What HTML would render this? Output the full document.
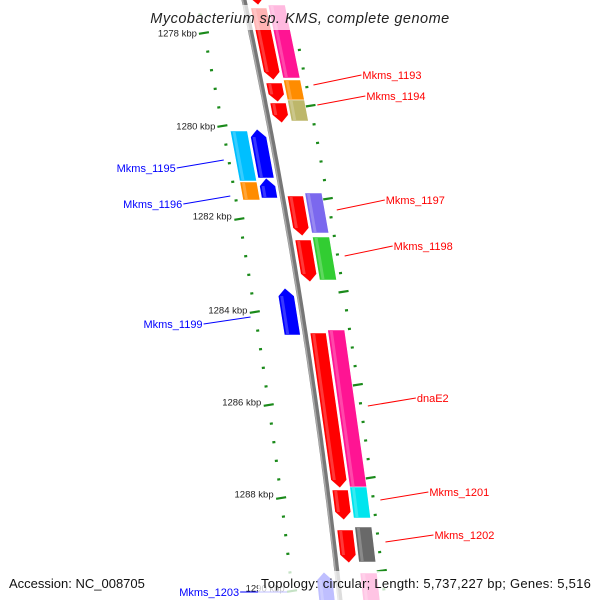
<!DOCTYPE html>
<html><head><meta charset="utf-8"><style>
html,body{margin:0;padding:0;background:#fff}
svg{display:block;font-family:"Liberation Sans",sans-serif}
</style></head><body>
<svg id="map" width="600" height="600" viewBox="0 0 600 600" xmlns="http://www.w3.org/2000/svg">
<g id="ticks"></g>
<g id="genes"></g>
<g id="labels"></g>
<rect x="150" y="5" width="300" height="25" fill="#fff" opacity="0.7"/>
<text x="300" y="23" text-anchor="middle" font-size="14.5" font-style="italic" fill="#222" letter-spacing="0.5">Mycobacterium sp. KMS, complete genome</text>
<rect x="258" y="571" width="336" height="29" fill="#fff" opacity="0.75"/>
<text x="9" y="588" font-size="13" fill="#111">Accession: NC_008705</text>
<text x="261" y="588" font-size="13" fill="#111" letter-spacing="0.25">Topology: circular; Length: 5,737,227 bp; Genes: 5,516</text>
</svg>
<script>
// backbone curve
function X(y){return 244+0.2125*y-8.75e-5*y*y;}
const NS='http://www.w3.org/2000/svg';
function mk(tag,attrs,parent){const e=document.createElementNS(NS,tag);for(const k in attrs)e.setAttribute(k,attrs[k]);parent.appendChild(e);return e;}

// data
const tickKbp=[1278,1280,1282,1284,1286,1288,1290];
const tickY=[33,126,216,310,402,494,588];
const geneStrand=[1,1,1,1,-1,-1,1,1,-1,1,1,1,-1];
const geneStart=[-20,8,83,103,129,178,196,240,288,333,490,530,572];
const geneEnd=[5,80,102,123,178,198,236,282,335,488,520,563,605];
const geneColor=['#ff0000','#ff0000','#ff0000','#ff0000','#0000ff','#0000ff','#ff0000','#ff0000','#0000ff','#ff0000','#ff0000','#ff0000','#0000ff'];
const cdsStrand=[1,1,1,-1,-1,1,1,1,1,1,1,-1];
const cdsStart=[5,80,100,131,182,193,237,330,487,527,573,600];
const cdsEnd=[78,100,121,181,200,233,280,487,518,562,605,605];
const cdsColor=['#ff1493','#ff8c00','#bdb76b','#00bfff','#ff8c00','#7b68ee','#32cd32','#ff1493','#00e5ee','#696969','#ff1493','#ff1493'];
const labelNames=['Mkms_1193','Mkms_1194','Mkms_1195','Mkms_1196','Mkms_1197','Mkms_1198','Mkms_1199','dnaE2','Mkms_1201','Mkms_1202','Mkms_1203'];
const labelSide=[1,1,-1,-1,1,1,-1,1,1,1,-1];
const labelY=[75,96,160,196,200,246,317,398,492,535,592];
const anchorY=[85,105,168,204,210,256,324,406,500,542,592];

const tg=document.getElementById('ticks');
const bb=[];for(let y=-5;y<=605;y+=5)bb.push(X(y).toFixed(1)+','+y);
const bbl=mk('polyline',{points:bb.join(' '),fill:'none',stroke:'#777','stroke-width':5},tg);


mk('polyline',{points:bb.join(' '),fill:'none',stroke:'#aaa','stroke-width':1.5,transform:'translate(-1.5,0)'},tg);

const step=(tickY[1]-tickY[0])/5;
for(let i=-1;i<35;i++){
  const y=tickY[0]+i*step; if(y<0||y>600)continue;
  const major=(i%5===0);
  const xl=X(y)-47;
  const t=mk('line',{x1:xl-(major?5:1.5),y1:y+(major?0.8:0.2),x2:xl+(major?5:1.5),y2:y-(major?0.8:0.2),stroke:'#1a8a1a','stroke-width':2.2},tg);
  
  
  const yr=y+step*2.5-11;
  if(yr<600&&yr>0){const xr=X(yr)+45;const maj2=((i+3)%5===0);
  const t2=mk('line',{x1:xr-(maj2?5:1.5),y1:yr+(maj2?0.8:0.2),x2:xr+(maj2?5:1.5),y2:yr-(maj2?0.8:0.2),stroke:'#1a8a1a','stroke-width':2.2},tg);
  
  }
}
tickKbp.forEach((k,i)=>{const y=tickY[i];
  const t=mk('text',{x:X(y)-54,y:y+3.5,'font-size':9.5,fill:'#222','text-anchor':'end'},tg);
  t.textContent=k+' kbp';
  
  
});

const gg=document.getElementById('genes');
function block(o1,o2,y1,y2,color,arrow,name){
  const h=Math.min(8,(y2-y1)*0.4);
  let pts;
  const m=(o1+o2)/2;
  const P=(o,y)=>(X(y)+o).toFixed(1)+','+y.toFixed(1);
  if(arrow===1) pts=[P(o1,y1),P(o2,y1),P(o2,y2-h),P(m,y2),P(o1,y2-h)];
  else if(arrow===-1) pts=[P(m,y1),P(o2,y1+h),P(o2,y2),P(o1,y2),P(o1,y1+h)];
  else pts=[P(o1,y1),P(o2,y1),P(o2,y2),P(o1,y2)];
  const p=mk('polygon',{points:pts.join(' '),fill:color,stroke:'#fff','stroke-width':0.6},gg);
  
  
  const s=[P(o1+2,y1+(arrow===-1?h:1)),P(o1+5,y1+(arrow===-1?h:1)),P(o1+5,y2-(arrow===1?h:1)),P(o1+2,y2-(arrow===1?h:1))];
  mk('polygon',{points:s.join(' '),fill:'#fff',opacity:0.22},gg);
}
geneStart.forEach((s,i)=>{
  const st=geneStrand[i];
  block(st>0?5:-21,st>0?21:-5,s,geneEnd[i],geneColor[i],st,'gene-'+i);
});
cdsStart.forEach((s,i)=>{
  if(cdsEnd[i]<=s)return;
  const st=cdsStrand[i];
  block(st>0?23:-40,st>0?40:-23,s,cdsEnd[i],cdsColor[i],0,'cds-'+i);
});

const lg=document.getElementById('labels');
labelNames.forEach((n,i)=>{
  const side=labelSide[i], col=side>0?'#ff0000':'#0000ff';
  const ay=anchorY[i];
  if(side>0){
    const x0=X(ay)+52, x1=x0+48;
    const l=mk('line',{x1:x0,y1:ay,x2:x1,y2:labelY[i],stroke:col,'stroke-width':1},lg);
    
    
    const t=mk('text',{x:x1+1,y:labelY[i]+4,'font-size':11,fill:col},lg);
    t.textContent=n;
    
    
  } else {
    const x1=X(labelY[i])-52, x0=x1-47;
    const l=mk('line',{x1:x0,y1:ay,x2:x1,y2:labelY[i],stroke:col,'stroke-width':1},lg);
    
    
    const t=mk('text',{x:x0-1,y:ay+4,'font-size':11,fill:col,'text-anchor':'end'},lg);
    t.textContent=n;
    
    
  }
});
</script>
</body></html>
